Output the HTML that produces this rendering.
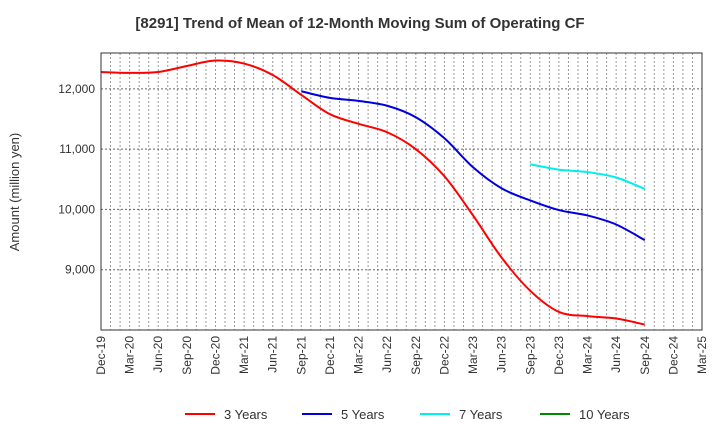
<!DOCTYPE html>
<html><head><meta charset="utf-8"><style>
body{margin:0;background:#fff;font-family:"Liberation Sans",sans-serif}
</style></head><body>
<svg id="chart" width="720" height="440" xmlns="http://www.w3.org/2000/svg" font-family="Liberation Sans, sans-serif">
<text x="360" y="28" text-anchor="middle" font-size="15" font-weight="bold" fill="#333">[8291]  Trend of Mean of 12-Month Moving Sum of Operating CF</text>
<text transform="translate(19,192) rotate(-90)" text-anchor="middle" font-size="13" fill="#333">Amount (million yen)</text>
<g id="grid"></g><g id="series"></g><g id="axes"></g><g id="legend"></g>
</svg>
<script>
const xLabels=["Dec-19","Mar-20","Jun-20","Sep-20","Dec-20","Mar-21","Jun-21","Sep-21","Dec-21","Mar-22","Jun-22","Sep-22","Dec-22","Mar-23","Jun-23","Sep-23","Dec-23","Mar-24","Jun-24","Sep-24","Dec-24","Mar-25"];
const yTicks=[9000,10000,11000,12000];
const seriesNames=["3 Years","5 Years","7 Years","10 Years"];
const seriesColors=["#ff0000","#0000dd","#00eeee","#008800"];
const y3=[12280,12265,12280,12380,12470,12420,12230,11900,11580,11420,11280,11000,10550,9900,9200,8650,8300,8230,8190,8090];
const y5start=7;
const y5=[11960,11850,11800,11720,11530,11180,10700,10350,10150,9990,9900,9750,9490];
const y7start=15;
const y7=[10750,10660,10620,10530,10340];
const L=101,R=702,T=53,B=330,YMIN=8000,YMAX=12595,MONTHS=63;
const ns="http://www.w3.org/2000/svg";
const xq=i=>L+(i*3)*(R-L)/MONTHS;
const xm=m=>L+m*(R-L)/MONTHS;
const yv=v=>B-(v-YMIN)/(YMAX-YMIN)*(B-T);
function mk(t,a,p){const e=document.createElementNS(ns,t);for(const k in a)e.setAttribute(k,a[k]);p.appendChild(e);return e;}
const grid=document.getElementById('grid');
for(let m=1;m<MONTHS;m++){const l=mk('line',{x1:xm(m),x2:xm(m),y1:T,y2:B,stroke:'#999','stroke-dasharray':'2,2','stroke-width':1},grid);

}
yTicks.forEach(v=>{const l=mk('line',{x1:L,x2:R,y1:yv(v),y2:yv(v),stroke:'#666','stroke-dasharray':'2,2','stroke-width':1},grid);

});
const axes=document.getElementById('axes');
const fr=mk('rect',{x:L,y:T,width:R-L,height:B-T,fill:'none',stroke:'#333','stroke-width':1},axes);


yTicks.forEach(v=>{const t=mk('text',{x:L-6,y:yv(v)+4,'text-anchor':'end','font-size':12,fill:'#333'},axes);t.textContent=v.toLocaleString('en-US');

});
xLabels.forEach((s,i)=>{const x=xq(i);const t=mk('text',{transform:`translate(${x+4},${B+6}) rotate(-90)`,'text-anchor':'end','font-size':12,fill:'#333'},axes);t.textContent=s;

});
function pathOf(vals,start){const p=vals.map((v,i)=>[xq(start+i),yv(v)]);let d=`M${p[0][0]},${p[0][1]}`;
for(let i=0;i<p.length-1;i++){const p0=p[i-1]||p[i],p1=p[i],p2=p[i+1],p3=p[i+2]||p2;
d+=` C${p1[0]+(p2[0]-p0[0])/6},${p1[1]+(p2[1]-p0[1])/6} ${p2[0]-(p3[0]-p1[0])/6},${p2[1]-(p3[1]-p1[1])/6} ${p2[0]},${p2[1]}`;}return d;}
const sg=document.getElementById('series');
[[y3,0],[y5,y5start],[y7,y7start]].forEach(([vals,st],k)=>{const p=mk('path',{d:pathOf(vals,st),fill:'none',stroke:seriesColors[k],'stroke-width':2},sg);

});
const lg=document.getElementById('legend');
const lx=[185,302,420,540];
seriesNames.forEach((n,k)=>{const g=mk('g',{},lg);


mk('line',{x1:lx[k],x2:lx[k]+30,y1:414,y2:414,stroke:seriesColors[k],'stroke-width':2},g);
const t=mk('text',{x:lx[k]+39,y:419,'font-size':13,fill:'#333'},g);t.textContent=n;});
</script>
</body></html>
